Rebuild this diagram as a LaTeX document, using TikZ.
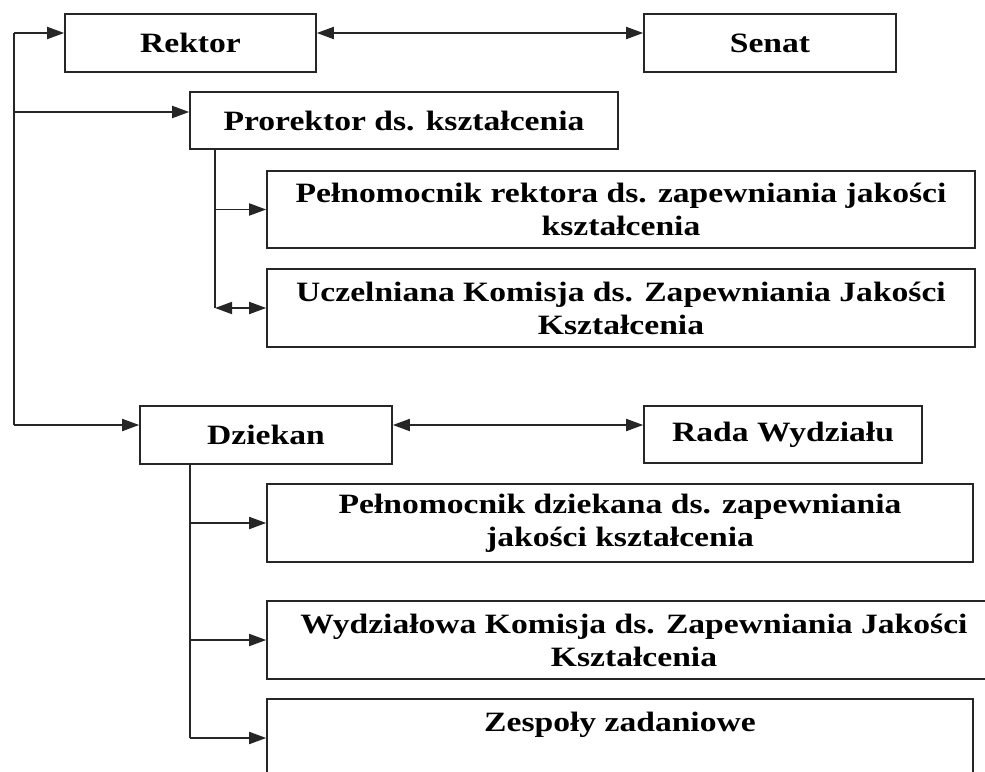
\documentclass[tikz,border=0pt]{standalone}
\usepackage{fontspec}
\setmainfont{Liberation Serif}[FakeStretch=1.2]
\usetikzlibrary{arrows.meta}

\begin{document}
\begin{tikzpicture}[x=1pt,y=-1pt]
    \tikzstyle{unit}=[draw=black!85,line width=1.6pt,rectangle,align=center,
      inner sep=0pt,font=\fontsize{28}{33}\selectfont\bfseries]
    \tikzstyle{link}=[draw=black!85,line width=1.8pt,
      >={Triangle[length=17pt,width=12pt]}]
    \useasboundingbox (0,0) rectangle (985,771);

    % university level
    \node[unit,minimum width=251pt,minimum height=58pt] (rektor) at (190.5,43) {Rektor};
    \node[unit,minimum width=252pt,minimum height=58pt] (senat) at (770,43) {Senat};
    \node[unit,minimum width=428pt,minimum height=57pt] (prorektor) at (404,120.5) {Prorektor ds. kształcenia};
    \node[unit,minimum width=708pt,minimum height=77pt] (pelnR) at (621,209.5)
      {Pełnomocnik rektora ds. zapewniania jakości\\kształcenia};
    \node[unit,minimum width=708pt,minimum height=78pt] (uczK) at (621,308)
      {Uczelniana Komisja ds. Zapewniania Jakości\\Kształcenia};

    % faculty level
    \node[unit,minimum width=252pt,minimum height=58pt] (dziekan) at (266,435) {Dziekan};
    \node[unit,minimum width=278pt,minimum height=57pt] (rada) at (783,434.5) {Rada Wydziału};
    \node[unit,minimum width=706pt,minimum height=78pt] (pelnD) at (620,523)
      {Pełnomocnik dziekana ds. zapewniania\\jakości kształcenia};
    \node[unit,minimum width=734pt,minimum height=78pt] (wydzK) at (634,640)
      {Wydziałowa Komisja ds. Zapewniania Jakości\\Kształcenia};
    \node[unit,minimum width=706pt,minimum height=78pt] (zespoly) at (620,738)
      {Zespoły zadaniowe\\\phantom{Kształcenia}};

    % main line on the left
    \coordinate (top) at (14,33);
    \coordinate (mid) at (14,112);
    \coordinate (bot) at (14,425);
    \draw[link] (top) -- (bot);
    \draw[link,->] (top) -- (top -| rektor.west);
    \draw[link,->] (mid) -- (mid -| prorektor.west);
    \draw[link,->] (bot) -- (bot -| dziekan.west);

    % two-way links to the councils
    \draw[link,<->] (top -| rektor.east) -- (top -| senat.west);
    \draw[link,<->] (bot -| dziekan.east) -- (bot -| rada.west);

    % under the vice-rector
    \coordinate (pr) at (215,0);
    \draw[link] (prorektor.south -| pr) -- (uczK.west -| pr);
    \draw[link,->] (pelnR.west -| pr) -- (pelnR.west);
    \draw[link,<->] (uczK.west -| pr) -- (uczK.west);

    % under the dean
    \coordinate (dz) at (190,0);
    \draw[link] (dziekan.south -| dz) -- (zespoly.west -| dz);
    \foreach \dst in {pelnD,wydzK,zespoly}
    \draw[link,->] (\dst.west -| dz) -- (\dst.west);
\end{tikzpicture}
\end{document}
